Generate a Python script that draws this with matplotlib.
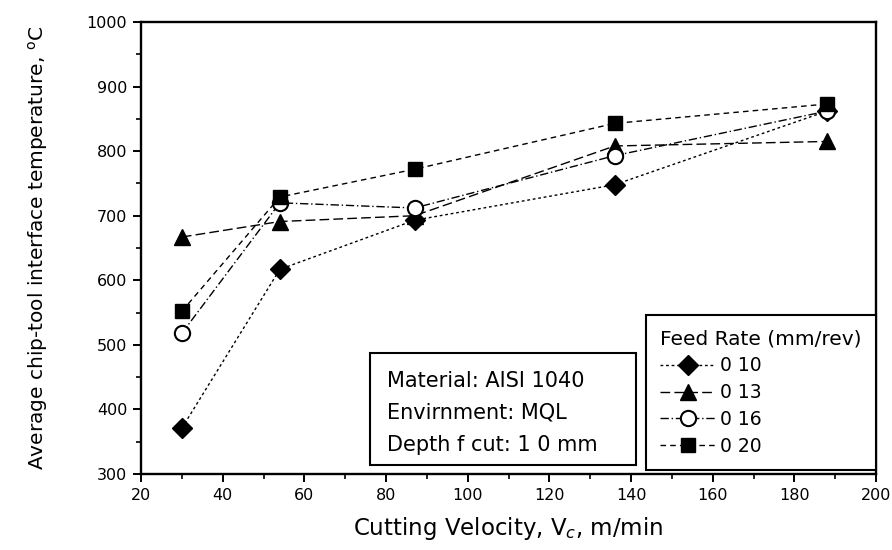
import matplotlib
matplotlib.use("Agg")
import matplotlib.pyplot as plt
from matplotlib.ticker import MultipleLocator
from matplotlib.patches import Rectangle

plt.rcParams['font.family'] = ['DejaVu Sans']

velocity = [30, 54, 87, 136, 188]
temp_010 = [371, 617, 693, 748, 862]
temp_013 = [667, 691, 700, 808, 815]
temp_016 = [518, 720, 712, 793, 862]
temp_020 = [552, 729, 772, 843, 873]
labels = ["0 10", "0 13", "0 16", "0 20"]
legend_title = "Feed Rate (mm/rev)"
note = "Material: AISI 1040\nEnvirnment: MQL\nDepth f cut: 1 0 mm"

fig = plt.figure(figsize=(8.92, 5.5), dpi=100)
ax = fig.add_axes([0.1581, 0.1382, 0.824, 0.8218])

ax.plot(velocity, temp_010, marker='D', markersize=10, color='black', lw=1.0,
        linestyle=(0, (2, 2)), label=labels[0])
ax.plot(velocity, temp_013, marker='^', markersize=12, color='black', lw=1.0,
        linestyle=(0, (7, 3)), label=labels[1])
ax.plot(velocity, temp_016, marker='o', markersize=11, mfc='white', mec='black', mew=1.5,
        color='black', lw=1.0, linestyle=(0, (6, 2, 1, 2)), label=labels[2])
ax.plot(velocity, temp_020, marker='s', markersize=10.5, color='black', lw=1.0,
        linestyle=(0, (4, 3)), label=labels[3])

ax.set_xlim(20, 200)
ax.set_ylim(300, 1000)
ax.xaxis.set_major_locator(MultipleLocator(20))
ax.xaxis.set_minor_locator(MultipleLocator(10))
ax.yaxis.set_major_locator(MultipleLocator(100))
ax.yaxis.set_minor_locator(MultipleLocator(50))
ax.tick_params(which='major', direction='out', length=6, width=1.4, labelsize=11.5, pad=4)
ax.tick_params(which='minor', direction='out', length=3.5, width=1.2)
for s in ax.spines.values():
    s.set_linewidth(1.7)

ax.set_xlabel("Cutting Velocity, V$_c$, m/min", fontsize=16.5, labelpad=9)
ax.set_ylabel("Average chip-tool interface temperature, $^{\\rm o}$C", fontsize=14.5, labelpad=26)

leg = ax.legend(title=legend_title, loc='lower right', fontsize=13.5,
                title_fontsize=14.5, frameon=True, fancybox=False, edgecolor='black',
                borderaxespad=0.0, handlelength=2.9, handletextpad=0.3,
                labelspacing=0.42, borderpad=0.75, framealpha=1,
                bbox_to_anchor=(1.0, 0.009))
leg._legend_box.align = "left"
leg.get_frame().set_linewidth(1.5)

ax.add_patch(Rectangle((0.3116, 0.0199), 0.3619, 0.2478, transform=ax.transAxes,
                       facecolor='white', edgecolor='black', lw=1.5, zorder=4))
ax.text(0.3347, 0.135, note, transform=ax.transAxes, fontsize=15, linespacing=1.75,
        va='center', ha='left', zorder=5)

fig.savefig("out.png", dpi=100)
